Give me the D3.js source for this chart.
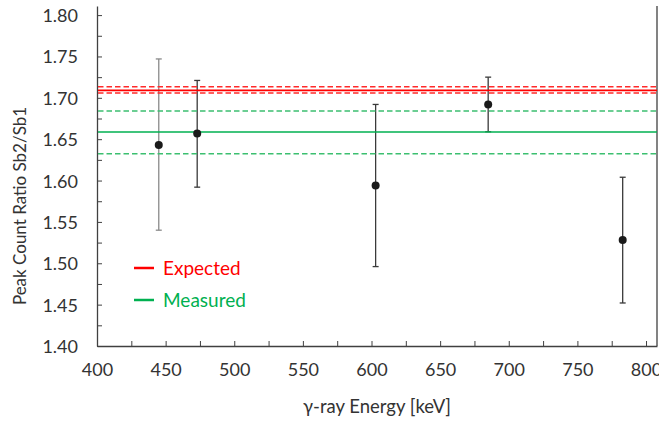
<!DOCTYPE html>
<html>
<head>
<meta charset="utf-8">
<script src="https://cdn.jsdelivr.net/npm/d3@7"></script>
<style>
  body { margin: 0; background: #fff; }
  svg text { font-family: Lato, "Liberation Sans", Arial, sans-serif; }
</style>
</head>
<body>
<svg id="chart" width="659" height="421"></svg>
<script>
"use strict"

// data
const energies  = [445, 473, 603, 685, 783];
const ratios    = [1.643, 1.657, 1.594, 1.692, 1.528];
const errUpper  = [1.747, 1.721, 1.692, 1.725, 1.604];
const errLower  = [1.540, 1.592, 1.496, 1.659, 1.452];

const expectedVal  = 1.709;
const expectedBand = [1.7058, 1.7133];
const measuredVal  = 1.6586;
const measuredBand = [1.6324, 1.684];

const xTicks = [400, 450, 500, 550, 600, 650, 700, 750, 800];
const yTicks = [1.40, 1.45, 1.50, 1.55, 1.60, 1.65, 1.70, 1.75, 1.80];

const svg = d3.select("#chart");

const plotLeft = 97, plotRight = 657, plotTop = 6, plotBottom = 346;

const x = d3.scaleLinear().domain([400, 808]).range([plotLeft, plotRight]);
const y = d3.scaleLinear().domain([1.40, 1.811]).range([plotBottom, plotTop]);

const axisColor = "#404040";

// x axis, ticks pointing inward
const xAxis = svg.append("g")
    .attr("transform", `translate(0,${plotBottom})`)
    .call(d3.axisBottom(x).tickValues(d3.range(400, 801, 25))
        .tickSizeInner(-5).tickSizeOuter(0)
        .tickFormat(d => xTicks.includes(d) ? d : ""));
xAxis.select(".domain").attr("stroke", axisColor).attr("stroke-width", 1.3);
xAxis.selectAll(".tick line").attr("stroke", axisColor);
xAxis.selectAll("text").attr("font-size", 18).attr("fill", "#333").attr("y", 17).attr("dy", "0.71em");

// y axis
const yAxis = svg.append("g")
    .attr("transform", `translate(${plotLeft},0)`)
    .call(d3.axisLeft(y).tickValues(d3.range(0, 17).map(i => 1.40 + i * 0.025))
        .tickSizeInner(-5).tickSizeOuter(0)
        .tickFormat(d => yTicks.some(t => Math.abs(t - d) < 1e-6) ? d3.format(".2f")(d) : ""));
yAxis.select(".domain").attr("stroke", axisColor).attr("stroke-width", 1.3);
yAxis.selectAll(".tick line").attr("stroke", axisColor);
yAxis.selectAll("text").attr("font-size", 18).attr("fill", "#333").attr("x", -19).attr("dy", "0.36em");

// right border
svg.append("line")
    .attr("x1", plotRight).attr("x2", plotRight).attr("y1", plotTop).attr("y2", plotBottom)
    .attr("stroke", axisColor).attr("stroke-width", 1.3);

// error bars
const bars = svg.append("g");
energies.forEach((e, i) => {
    const c = i === 0 ? "#8a8a8a" : "#3a3a3a";
    bars.append("line")
        .attr("x1", x(e)).attr("x2", x(e))
        .attr("y1", y(errUpper[i])).attr("y2", y(errLower[i]))
        .attr("stroke", c).attr("stroke-width", 1.3);
    [errUpper[i], errLower[i]].forEach(v => {
        bars.append("line")
            .attr("x1", x(e) - 3).attr("x2", x(e) + 3)
            .attr("y1", y(v)).attr("y2", y(v))
            .attr("stroke", c).attr("stroke-width", 1.3);
    });
});

// horizontal reference lines
const hline = (v, color, dashed) => {
    svg.append("line")
        .attr("x1", plotLeft + 1).attr("x2", plotRight)
        .attr("y1", y(v)).attr("y2", y(v))
        .attr("stroke", color)
        .attr("stroke-width", 1.6)
        .attr("stroke-dasharray", dashed ? "5.5,3" : null);
};
expectedBand.forEach(v => hline(v, "#ff2a2a", true));
hline(expectedVal, "#ff0000", false);
measuredBand.forEach(v => hline(v, "#3cbf70", true));
hline(measuredVal, "#00b050", false);

// points
svg.append("g").selectAll("circle")
    .data(energies)
    .join("circle")
    .attr("cx", d => x(d))
    .attr("cy", (d, i) => y(ratios[i]))
    .attr("r", 4)
    .attr("fill", "#1a1a1a");

// legend
const legend = [["Expected", "#ff0000", 268], ["Measured", "#00b050", 300]];
legend.forEach(([label, color, ly]) => {
    svg.append("line")
        .attr("x1", 134).attr("x2", 154).attr("y1", ly).attr("y2", ly)
        .attr("stroke", color).attr("stroke-width", 2.5);
    svg.append("text")
        .attr("x", 163).attr("y", ly + 7)
        .attr("font-size", 19).attr("fill", color)
        .text(label);
});

// axis titles
svg.append("text")
    .attr("x", 377).attr("y", 413)
    .attr("text-anchor", "middle")
    .attr("font-size", 18.5).attr("fill", "#333")
    .text("γ-ray Energy [keV]");

svg.append("text")
    .attr("transform", "translate(26,206) rotate(-90)")
    .attr("text-anchor", "middle")
    .attr("font-size", 17).attr("fill", "#333")
    .text("Peak Count Ratio Sb2/Sb1");
</script>
</body>
</html>
